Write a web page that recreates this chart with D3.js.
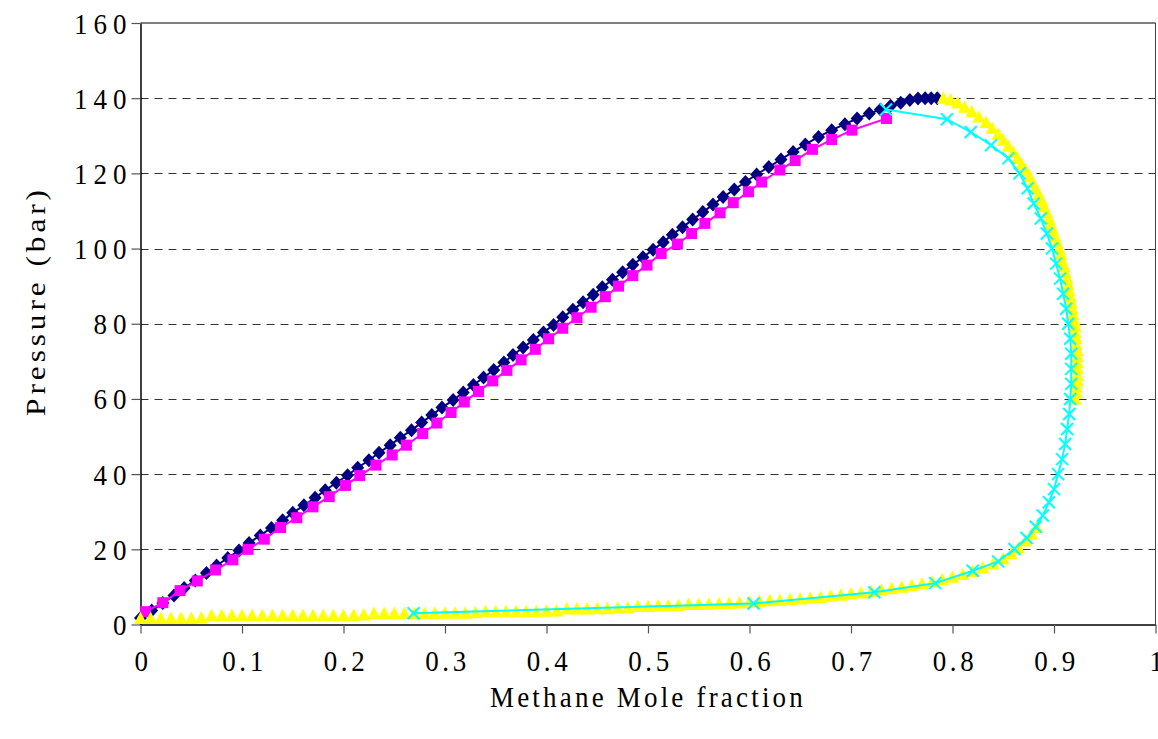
<!DOCTYPE html>
<html>
<head>
<meta charset="utf-8">
<script src="https://cdn.jsdelivr.net/npm/d3@7"></script>
<style>
  body { margin: 0; background: #fff; }
  svg { display: block; }
  text { font-family: "Liberation Serif", "Times New Roman", serif; fill: #000; }
</style>
</head>
<body>
<svg id="chart"></svg>
<script>
// axis ticks
const xTicks = [0, 0.1, 0.2, 0.3, 0.4, 0.5, 0.6, 0.7, 0.8, 0.9, 1];
const yTicks = [0, 20, 40, 60, 80, 100, 120, 140, 160];

// navy diamonds: [mole fraction, pressure]
const navySeries = [
  [0.000, 1.7], [0.011, 3.7], [0.022, 5.7], [0.033, 7.7], [0.043, 9.7], [0.054, 11.7],
  [0.065, 13.7], [0.075, 15.7], [0.086, 17.7], [0.097, 19.7], [0.107, 21.7], [0.118, 23.7],
  [0.129, 25.7], [0.140, 27.7], [0.150, 29.7], [0.161, 31.7], [0.172, 33.7], [0.182, 35.7],
  [0.193, 37.7], [0.204, 39.7], [0.214, 41.7], [0.225, 43.7], [0.235, 45.7], [0.246, 47.7],
  [0.256, 49.7], [0.267, 51.7], [0.277, 53.7], [0.287, 55.7], [0.297, 57.7], [0.308, 59.7],
  [0.318, 61.7], [0.328, 63.7], [0.338, 65.7], [0.348, 67.7], [0.358, 69.7], [0.367, 71.7],
  [0.377, 73.7], [0.387, 75.7], [0.397, 77.7], [0.407, 79.7], [0.416, 81.7], [0.426, 83.7],
  [0.436, 85.7], [0.446, 87.7], [0.455, 89.7], [0.465, 91.7], [0.475, 93.7], [0.485, 95.7],
  [0.495, 97.7], [0.505, 99.7], [0.515, 101.7], [0.524, 103.7], [0.534, 105.7], [0.544, 107.7],
  [0.554, 109.7], [0.564, 111.7], [0.574, 113.7], [0.585, 115.7], [0.596, 117.7], [0.607, 119.7],
  [0.619, 121.7], [0.631, 123.7], [0.643, 125.7], [0.655, 127.7], [0.668, 129.7], [0.681, 131.5],
  [0.694, 133.1], [0.706, 134.6], [0.718, 135.9], [0.729, 137.0], [0.739, 138.0], [0.749, 138.8],
  [0.758, 139.5], [0.766, 139.9], [0.773, 140.0], [0.779, 140.0], [0.785, 140.0]
];

// magenta squares
const magentaSeries = [
  [0.005, 3.4], [0.022, 5.8], [0.039, 9.0], [0.056, 11.6], [0.074, 14.5], [0.091, 17.2],
  [0.106, 20.0], [0.122, 22.7], [0.138, 25.8], [0.154, 28.4], [0.170, 31.3], [0.186, 34.0],
  [0.202, 37.0], [0.216, 39.6], [0.232, 42.4], [0.248, 45.1], [0.262, 47.7], [0.278, 50.8],
  [0.292, 53.6], [0.306, 56.4], [0.319, 59.2], [0.333, 62.0], [0.347, 64.8], [0.361, 67.6],
  [0.375, 70.4], [0.389, 73.2], [0.402, 76.0], [0.416, 78.8], [0.430, 81.6], [0.444, 84.4],
  [0.458, 87.2], [0.471, 90.0], [0.485, 92.8], [0.499, 95.6], [0.513, 98.7], [0.529, 101.2],
  [0.543, 104.0], [0.556, 106.7], [0.571, 109.5], [0.584, 112.2], [0.599, 115.1], [0.612, 117.7],
  [0.630, 120.9], [0.645, 123.4], [0.662, 126.4], [0.681, 129.0], [0.701, 131.5], [0.735, 134.6]
];

// yellow triangles (no line)
const yellowSeries = [
  [0.00, 1.6], [0.01, 1.6], [0.02, 1.6], [0.03, 1.6], [0.04, 1.6], [0.05, 1.6], [0.06, 1.7],
  [0.07, 2.3], [0.08, 2.3], [0.09, 2.3], [0.10, 2.3], [0.11, 2.3], [0.12, 2.3], [0.13, 2.3],
  [0.14, 2.3], [0.15, 2.3], [0.16, 2.3], [0.17, 2.3], [0.18, 2.3], [0.19, 2.3], [0.20, 2.3],
  [0.21, 2.4], [0.22, 2.5], [0.23, 2.9], [0.24, 2.9], [0.25, 2.9], [0.26, 2.9], [0.27, 2.9],
  [0.28, 2.9], [0.29, 2.9], [0.30, 3.0], [0.31, 3.0], [0.32, 3.0], [0.33, 3.1], [0.34, 3.4],
  [0.35, 3.4], [0.36, 3.4], [0.37, 3.4], [0.38, 3.4], [0.39, 3.4], [0.40, 3.5], [0.41, 3.6],
  [0.42, 4.1], [0.43, 4.1], [0.44, 4.1], [0.45, 4.2], [0.46, 4.2], [0.47, 4.3], [0.48, 4.4],
  [0.49, 4.8], [0.50, 4.8], [0.51, 4.9], [0.52, 4.9], [0.53, 5.0], [0.54, 5.3], [0.55, 5.3],
  [0.56, 5.4], [0.57, 5.5], [0.58, 5.6], [0.59, 5.7], [0.60, 5.9], [0.61, 6.1], [0.62, 6.3],
  [0.63, 6.4], [0.64, 6.6], [0.65, 6.8], [0.66, 7.0], [0.67, 7.2], [0.68, 7.5], [0.69, 7.8],
  [0.70, 8.1], [0.71, 8.4], [0.72, 8.7], [0.73, 9.1], [0.74, 9.5], [0.75, 9.9], [0.76, 10.3],
  [0.77, 10.8], [0.78, 11.3], [0.79, 11.9], [0.80, 12.6], [0.81, 13.3], [0.82, 14.1],
  [0.83, 15.0], [0.84, 16.1], [0.85, 17.4], [0.858, 18.8], [0.865, 20.4], [0.872, 22.2],
  [0.878, 24.0], [0.883, 25.8],
  [0.921, 60.0], [0.922, 61.6], [0.922, 63.2], [0.923, 64.8], [0.923, 66.4], [0.923, 68.0],
  [0.923, 69.6], [0.923, 71.2], [0.923, 72.8], [0.922, 74.4], [0.922, 76.0], [0.921, 77.6],
  [0.921, 79.2], [0.920, 80.8], [0.919, 82.4], [0.918, 84.0], [0.917, 85.6], [0.916, 87.2],
  [0.915, 88.8], [0.914, 90.4], [0.913, 92.0], [0.911, 93.6], [0.910, 95.2], [0.908, 96.8],
  [0.907, 98.4], [0.905, 100.0], [0.903, 101.6], [0.901, 103.2], [0.899, 104.8], [0.897, 106.4],
  [0.895, 108.0], [0.893, 109.6], [0.890, 111.2], [0.888, 112.8], [0.885, 114.4], [0.882, 116.0],
  [0.879, 117.6], [0.876, 119.2], [0.872, 120.8], [0.868, 122.4], [0.864, 124.0], [0.860, 125.6],
  [0.855, 127.2], [0.850, 128.8], [0.845, 130.4], [0.839, 132.0], [0.833, 133.5], [0.826, 135.0],
  [0.819, 136.4], [0.812, 137.6], [0.805, 138.7], [0.798, 139.5], [0.791, 140.0]
];

// cyan crosses with line
const cyanSeries = [
  [0.269, 3.0], [0.604, 5.6], [0.723, 8.6], [0.783, 11.0], [0.820, 14.3], [0.845, 16.8],
  [0.861, 20.1], [0.873, 23.0], [0.882, 26.0], [0.889, 29.0], [0.895, 32.5], [0.900, 36.0],
  [0.904, 40.0], [0.908, 44.0], [0.911, 48.0], [0.913, 52.0], [0.915, 56.0], [0.916, 60.0],
  [0.917, 64.0], [0.917, 68.0], [0.917, 72.0], [0.916, 76.0], [0.914, 80.0], [0.912, 84.0],
  [0.909, 88.0], [0.906, 92.0], [0.902, 96.0], [0.898, 100.0], [0.893, 104.0], [0.887, 108.0],
  [0.880, 112.0], [0.874, 116.0], [0.866, 120.0], [0.855, 124.0], [0.838, 127.5], [0.818, 131.0],
  [0.7945, 134.4], [0.7345, 137.0]
];

const width = 1158, height = 739;
const margin = { top: 23, right: 2.5, bottom: 114.5, left: 140.5 };

const svg = d3.select("#chart")
  .attr("width", width)
  .attr("height", height);

const x = d3.scaleLinear()
  .domain([0, 1])
  .range([margin.left, width - margin.right]);

const y = d3.scaleLinear()
  .domain([0, 160])
  .range([height - margin.bottom, margin.top]);

// dashed gridlines
svg.append("g")
  .selectAll("line")
  .data(yTicks.filter(d => d > 0 && d < 160))
  .join("line")
  .attr("x1", x(0))
  .attr("x2", x(1))
  .attr("y1", d => Math.round(y(d)) + 0.5)
  .attr("y2", d => Math.round(y(d)) + 0.5)
  .attr("stroke", "#333")
  .attr("stroke-width", 1)
  .attr("stroke-dasharray", "8,6");

// frame top / right
svg.append("line")
  .attr("x1", x(0)).attr("x2", x(1))
  .attr("y1", y(160)).attr("y2", y(160))
  .attr("stroke", "#000").attr("stroke-width", 1.2);
svg.append("line")
  .attr("x1", x(1)).attr("x2", x(1))
  .attr("y1", y(160)).attr("y2", y(0))
  .attr("stroke", "#444").attr("stroke-width", 1);

// x axis
const xAxis = svg.append("g")
  .attr("transform", `translate(0,${y(0)})`)
  .call(d3.axisBottom(x).tickValues(xTicks).tickSize(9).tickSizeOuter(0).tickFormat(d3.format("")));
xAxis.select(".domain").attr("stroke", "#404040").attr("stroke-width", 2);
xAxis.selectAll(".tick line").attr("stroke", "#555").attr("stroke-width", 1.2);
xAxis.selectAll(".tick text")
  .attr("y", 0)
  .attr("dy", 0)
  .attr("transform", "translate(2,46) scale(1,1.08)")
  .style("font-size", "27px")
  .style("letter-spacing", "3.6px");

// y axis
const yAxis = svg.append("g")
  .attr("transform", `translate(${x(0)},0)`)
  .call(d3.axisLeft(y).tickValues(yTicks).tickSize(9).tickSizeOuter(0));
yAxis.select(".domain").attr("stroke", "#000").attr("stroke-width", 1.5);
yAxis.selectAll(".tick text")
  .attr("x", 0)
  .attr("dy", 0)
  .attr("transform", "translate(-8,10) scale(1,1.08)")
  .style("font-size", "27px")
  .style("letter-spacing", "6px");
yAxis.selectAll(".tick line").attr("stroke", "#555").attr("stroke-width", 1.2);

// axis titles
svg.append("text")
  .attr("transform", "translate(648,707) scale(1,1.08)")
  .attr("text-anchor", "middle")
  .style("font-size", "27px")
  .style("letter-spacing", "3.2px")
  .text("Methane Mole fraction");

svg.append("text")
  .attr("transform", "translate(45,301) rotate(-90) scale(1.12,1)")
  .attr("text-anchor", "middle")
  .style("font-size", "28px")
  .style("letter-spacing", "3.5px")
  .text("Pressure (bar)");

const line = d3.line()
  .x(d => x(d[0]))
  .y(d => y(d[1]));

// navy diamonds
svg.append("path")
  .datum(navySeries)
  .attr("d", line)
  .attr("fill", "none")
  .attr("stroke", "#000080")
  .attr("stroke-width", 2);
svg.append("g")
  .selectAll("path")
  .data(navySeries)
  .join("path")
  .attr("transform", d => `translate(${x(d[0])},${y(d[1])})`)
  .attr("d", "M0,-7L6.5,0L0,7L-6.5,0Z")
  .attr("fill", "#000080");

// magenta squares
svg.append("path")
  .datum(magentaSeries)
  .attr("d", line)
  .attr("fill", "none")
  .attr("stroke", "#ff00ff")
  .attr("stroke-width", 2);
svg.append("g")
  .selectAll("rect")
  .data(magentaSeries)
  .join("rect")
  .attr("x", d => x(d[0]) - 5.5)
  .attr("y", d => y(d[1]) - 5.5)
  .attr("width", 11)
  .attr("height", 11)
  .attr("fill", "#ff00ff");

// yellow triangles
svg.append("g")
  .selectAll("path")
  .data(yellowSeries)
  .join("path")
  .attr("transform", d => `translate(${x(d[0])},${y(d[1])})`)
  .attr("d", "M0,-7L6.5,5.5L-6.5,5.5Z")
  .attr("fill", "#ffff00");

// cyan crosses
svg.append("path")
  .datum(cyanSeries)
  .attr("d", line)
  .attr("fill", "none")
  .attr("stroke", "#00ffff")
  .attr("stroke-width", 2);
svg.append("g")
  .selectAll("path")
  .data(cyanSeries)
  .join("path")
  .attr("transform", d => `translate(${x(d[0])},${y(d[1])})`)
  .attr("d", "M-6,-6L6,6M-6,6L6,-6")
  .attr("fill", "none")
  .attr("stroke", "#00ffff")
  .attr("stroke-width", 2);
</script>
</body>
</html>
